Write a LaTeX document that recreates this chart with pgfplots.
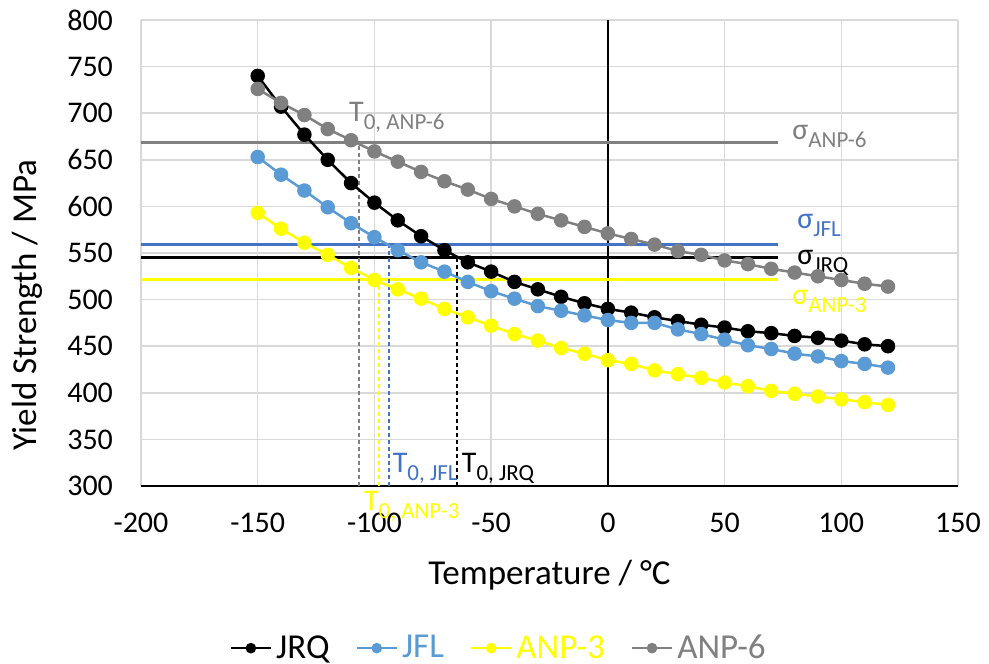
\documentclass[border=0pt]{standalone}
\usepackage{pgfplots}
\pgfplotsset{compat=1.18}
\usepackage{fontspec}
\setmainfont{Carlito}
\definecolor{cjfl}{HTML}{5B9BD5}
\definecolor{cjfld}{HTML}{4472C4}
\definecolor{cyel}{HTML}{FFFF00}
\definecolor{cgray}{HTML}{808080}
\definecolor{cgrid}{HTML}{D9D9D9}
\newcommand{\lab}[2]{#1\raisebox{-4pt}{\fontsize{11.5}{12}\selectfont #2}}
\begin{document}
\begin{tikzpicture}
\begin{axis}[name=ax,
  scale only axis, width=408.5pt, height=233pt,
  xmin=-200, xmax=150, ymin=300, ymax=800,
  xtick distance=50, ytick distance=50,
  grid=major, major grid style={cgrid, line width=0.75pt},
  axis x line*=bottom, axis y line*=left,
  y axis line style={draw=none}, x axis line style={black, line width=1pt, -},
  major tick length=0pt,
  /pgf/number format/assume math mode=true,
  tick label style={font=\fontsize{15}{17}\selectfont},
  xticklabel style={yshift=-10pt},
  yticklabel style={xshift=-10.5pt},
  xlabel={Temperature / °C}, ylabel={Yield Strength / MPa},
  label style={font=\fontsize{17.5}{20}\selectfont},
  xlabel style={at={(axis description cs:0.5,-0.191)}, anchor=center},
  ylabel style={at={(axis description cs:-0.1395,0.388)}, anchor=center},
  clip=false,
  legend style={at={(rel axis cs:0.439,-0.348)}, anchor=center, draw=none, legend columns=4,
    font=\fontsize{17.5}{20}\selectfont, /tikz/every even column/.append style={column sep=11pt}, inner sep=0pt},
  legend cell align=left,
  legend image code/.code={\draw[mark size=2pt,mark repeat=2,mark phase=2] plot coordinates {(0pt,0pt)(10pt,0pt)(20pt,0pt)};},
]
% reference lines
\addplot[black, line width=0.75pt, forget plot] coordinates {(0,300) (0,800)};
\addplot[cgray, line width=1.5pt, forget plot] coordinates {(-200,669) (73,669)};
\addplot[cjfld, line width=1.5pt, forget plot] coordinates {(-200,559) (73,559)};
\addplot[black, line width=1.5pt, forget plot] coordinates {(-200,545) (73,545)};
\addplot[cyel, line width=1.5pt, forget plot] coordinates {(-200,522) (73,522)};
\addplot[cgray, line width=0.75pt, dash pattern=on 2pt off 1.5pt, forget plot] coordinates {(-106.7,300) (-106.7,669)};
\addplot[cyel, line width=0.75pt, dash pattern=on 2pt off 1.5pt, forget plot] coordinates {(-98,300) (-98,522)};
\addplot[cjfld, line width=0.75pt, dash pattern=on 2pt off 1.5pt, forget plot] coordinates {(-93.7,300) (-93.7,559)};
\addplot[black, line width=0.75pt, dash pattern=on 2pt off 1.5pt, forget plot] coordinates {(-64.6,300) (-64.6,545)};
% series
\addplot[black, line width=1.25pt, mark=*, mark size=3pt] coordinates {
(-150,740)(-140,707)(-130,677)(-120,650)(-110,625)(-100,604)(-90,585)(-80,568)(-70,553)(-60,540)
(-50,530)(-40,519)(-30,511)(-20,503)(-10,496)(0,490)(10,486)(20,481)(30,477)(40,473)
(50,470)(60,466)(70,464)(80,461)(90,459)(100,456)(110,452)(120,450)};
\addlegendentry{JRQ}
\addplot[cjfl, line width=1.25pt, mark=*, mark size=3pt] coordinates {
(-150,653)(-140,634)(-130,617)(-120,599)(-110,582)(-100,567)(-90,553)(-80,540)(-70,530)(-60,519)
(-50,509)(-40,501)(-30,493)(-20,488)(-10,483)(0,478)(10,475)(20,475)(30,468)(40,463)
(50,457)(60,451)(70,447)(80,442)(90,439)(100,434)(110,431)(120,427)};
\addlegendentry{\textcolor{cjfl}{JFL}}
\addplot[cyel, line width=1.25pt, mark=*, mark size=3pt] coordinates {
(-150,593)(-140,576)(-130,561)(-120,548)(-110,534)(-100,521)(-90,511)(-80,501)(-70,490)(-60,481)
(-50,472)(-40,463)(-30,456)(-20,448)(-10,442)(0,435)(10,431)(20,424)(30,420)(40,416)
(50,411)(60,407)(70,402)(80,399)(90,396)(100,393)(110,390)(120,387)};
\addlegendentry{\textcolor{cyel}{ANP-3}}
\addplot[cgray, line width=1.25pt, mark=*, mark size=3pt] coordinates {
(-150,726)(-140,711)(-130,698)(-120,683)(-110,671)(-100,659)(-90,648)(-80,637)(-70,627)(-60,618)
(-50,608)(-40,600)(-30,592)(-20,585)(-10,578)(0,571)(10,565)(20,559)(30,552)(40,548)
(50,542)(60,538)(70,533)(80,529)(90,525)(100,521)(110,517)(120,514)};
\addlegendentry{\textcolor{cgray}{ANP-6}}
% annotations
\node[anchor=base west, inner sep=0pt, text=cgray, font=\fontsize{15}{17}\selectfont] at (axis cs:-111,691.6) {\lab{T}{0, ANP-6}};
\node[anchor=base west, inner sep=0pt, text=cgray, font=\fontsize{15}{17}\selectfont] at (axis cs:78.9,672.3) {\lab{σ}{ANP-6}};
\node[anchor=base west, inner sep=0pt, text=cjfld, font=\fontsize{15}{17}\selectfont] at (axis cs:81,576) {\lab{σ}{JFL}};
\node[anchor=base west, inner sep=0pt, text=black, font=\fontsize{15}{17}\selectfont] at (axis cs:81,538) {\lab{σ}{JRQ}};
\node[anchor=base west, inner sep=0pt, text=cyel, font=\fontsize{15}{17}\selectfont] at (axis cs:78.9,495) {\lab{σ}{ANP-3}};
\node[anchor=base west, inner sep=0pt, text=cjfld, font=\fontsize{15}{17}\selectfont] at (axis cs:-92.3,314) {\lab{T}{0, JFL}};
\node[anchor=base west, inner sep=0pt, text=black, font=\fontsize{15}{17}\selectfont] at (axis cs:-62.7,314) {\lab{T}{0, JRQ}};
\node[anchor=base west, inner sep=0pt, text=cyel, font=\fontsize{15}{17}\selectfont] at (axis cs:-104.6,274) {\lab{T}{0, ANP-3}};
\end{axis}
\pgfresetboundingbox
\path (ax.south west) ++(-70.5pt,-89pt) coordinate (bl);
\path (ax.north east) ++(15.5pt,10pt) coordinate (tr);
\path[use as bounding box] (bl) rectangle (tr);
\end{tikzpicture}
\end{document}
